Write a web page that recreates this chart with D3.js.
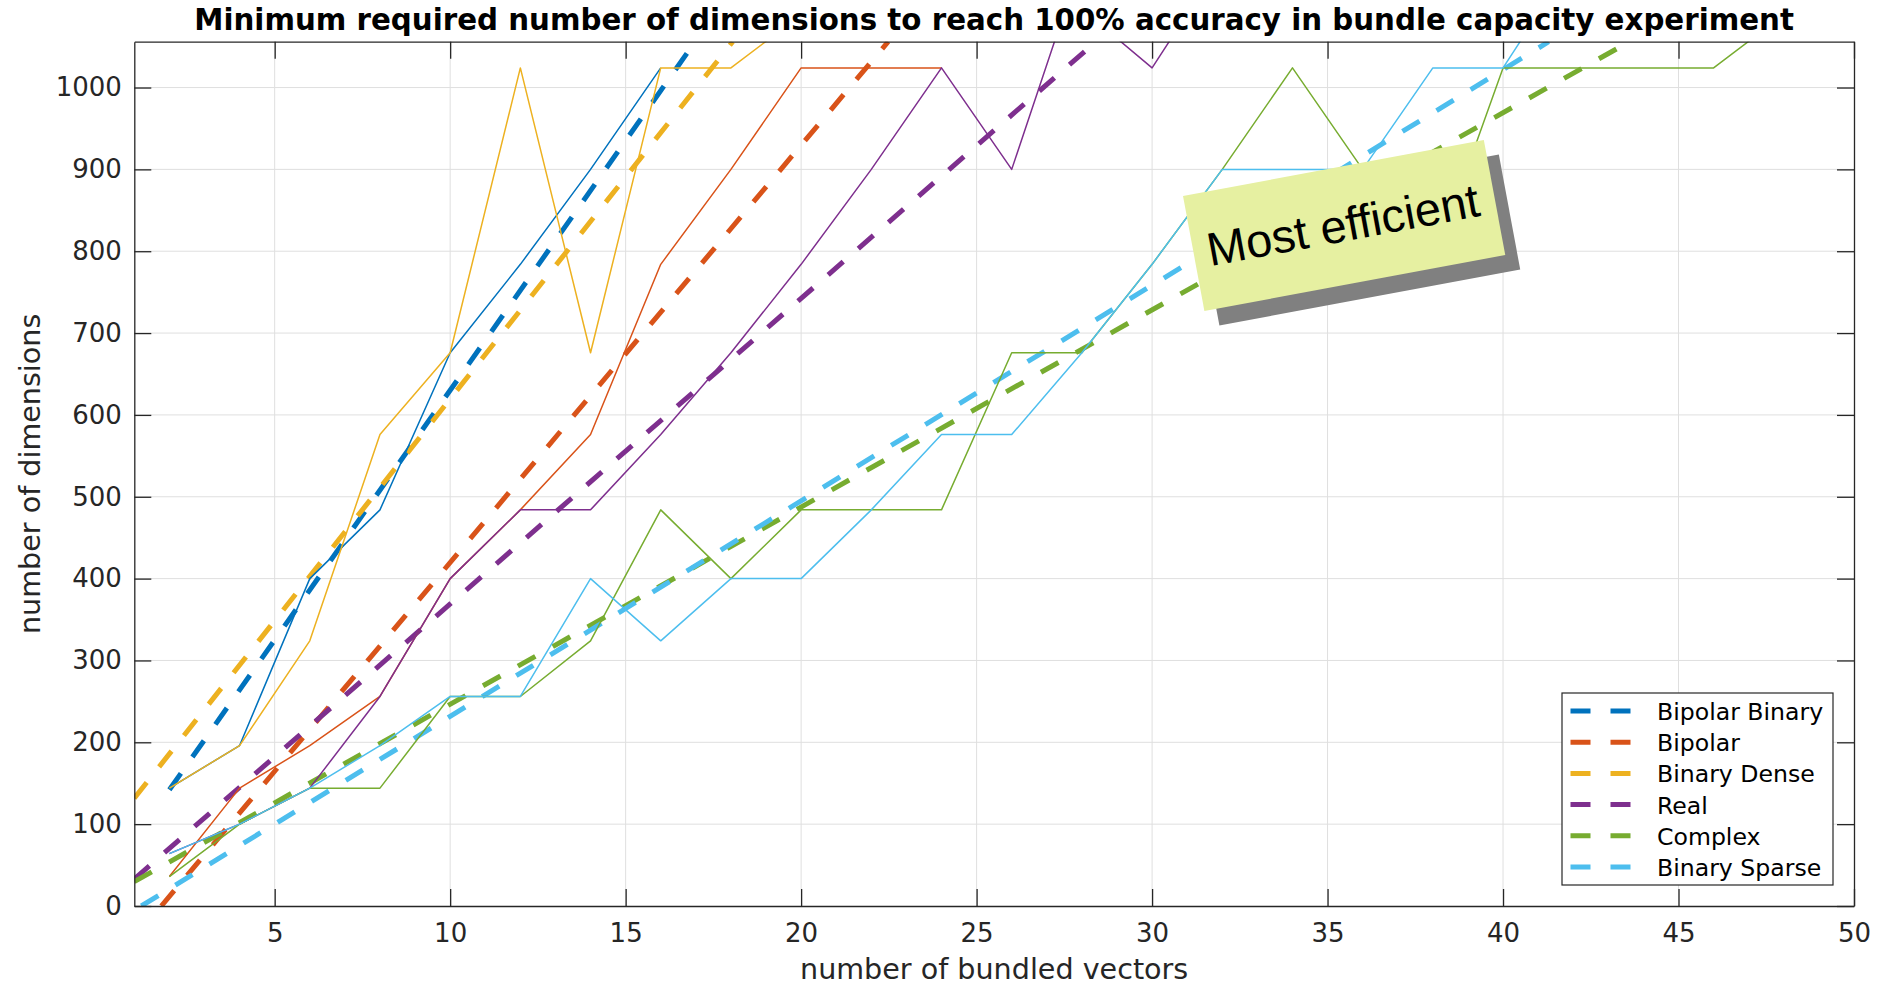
<!DOCTYPE html>
<html>
<head>
<meta charset="utf-8">
<script src="https://cdn.jsdelivr.net/npm/d3@7"></script>
<style>
    body { margin: 0; background: #fff; }
    svg text { font-family: "DejaVu Sans", sans-serif; }
</style>
</head>
<body>
<svg id="chart" width="1881" height="986"></svg>
<script>
// ---- data ----
var seriesNames = ['Bipolar Binary', 'Bipolar', 'Binary Dense', 'Real', 'Complex', 'Binary Sparse'];
var colors = ['#0072BD', '#D95319', '#EDB120', '#7E2F8E', '#77AC30', '#4DBEEE'];

// measured points [vectors, dimensions]
var bipolarBinary = [[2, 144], [4, 196], [6, 400], [8, 484], [10, 676], [12, 784], [14, 900], [16, 1024]];
var bipolar = [[2, 36], [4, 144], [6, 196], [8, 256], [10, 400], [12, 484], [14, 576], [16, 784],
    [18, 900], [20, 1024], [22, 1024], [24, 1024]];
var binaryDense = [[2, 144], [4, 196], [6, 324], [8, 576], [10, 676], [12, 1024], [14, 676], [16, 1024],
    [18, 1024], [20, 1089]];
var real = [[2, 64], [4, 100], [6, 144], [8, 256], [10, 400], [12, 484], [14, 484], [16, 576], [18, 676],
    [20, 784], [22, 900], [24, 1024], [26, 900], [28, 1156], [29, 1060], [30, 1024], [32, 1156]];
var complex = [[2, 36], [4, 100], [6, 144], [8, 144], [10, 256], [12, 256], [14, 324], [16, 484], [18, 400],
    [20, 484], [22, 484], [24, 484], [26, 676], [28, 676], [30, 784], [32, 900], [34, 1024], [36, 900],
    [38, 784], [40, 1024], [42, 1024], [44, 1024], [46, 1024], [48, 1089]];
var binarySparse = [[2, 64], [4, 100], [6, 144], [8, 196], [10, 256], [12, 256], [14, 400], [16, 324],
    [18, 400], [20, 400], [22, 484], [24, 576], [26, 576], [28, 676], [30, 784], [32, 900], [34, 900],
    [36, 900], [38, 1024], [40, 1024], [42, 1156]];

// linear fits (dashed), start and end point
var fitBipolarBinary = [[2, 142], [16.98, 1056]];
var fitBipolar = [[1.77, 0], [22.48, 1056]];
var fitBinaryDense = [[1, 131.7], [18.05, 1056]];
var fitReal = [[1, 33], [28.4, 1056]];
var fitComplex = [[1, 29.7], [43.6, 1056]];
var fitBinarySparse = [[1.2, 0], [41.3, 1056]];

var xTicks = [5, 10, 15, 20, 25, 30, 35, 40, 45, 50];
var yTicks = [0, 100, 200, 300, 400, 500, 600, 700, 800, 900, 1000];

var titleText = 'Minimum required number of dimensions to reach 100% accuracy in bundle capacity experiment';
var xLabel = 'number of bundled vectors';
var yLabel = 'number of dimensions';
var noteText = 'Most efficient';

var measured = [bipolarBinary, bipolar, binaryDense, real, complex, binarySparse];
var fits = [fitBipolarBinary, fitBipolar, fitBinaryDense, fitReal, fitComplex, fitBinarySparse];

// ---- layout ----
var plotLeft = 134.3, plotRight = 1854, plotTop = 41.7, plotBottom = 906,
    axisColor = '#262626',
    tickLen = 17;

var svg = d3.select('#chart');

var x = d3.scaleLinear().domain([1, 50]).range([plotLeft, plotRight]);
var y = d3.scaleLinear().domain([0, 1056]).range([plotBottom, plotTop]);

svg.append('defs').append('clipPath').attr('id', 'plot-clip')
    .append('rect')
    .attr('x', plotLeft).attr('y', plotTop)
    .attr('width', plotRight - plotLeft).attr('height', plotBottom - plotTop);

// grid
var grid = svg.append('g').attr('stroke', '#dfdfdf').attr('stroke-width', 1);
grid.selectAll('line.gx')
    .data(xTicks.filter(function (t) { return t < 50; }))
    .enter().append('line')
    .attr('x1', function (d) { return x(d); }).attr('x2', function (d) { return x(d); })
    .attr('y1', plotTop).attr('y2', plotBottom);
grid.selectAll('line.gy')
    .data(yTicks.filter(function (t) { return t > 0; }))
    .enter().append('line')
    .attr('x1', plotLeft).attr('x2', plotRight)
    .attr('y1', function (d) { return y(d); }).attr('y2', function (d) { return y(d); });

// lines: fits first (they are the legend entries), measured on top
var line = d3.line()
    .x(function (d) { return x(d[0]); })
    .y(function (d) { return y(d[1]); });

var plot = svg.append('g').attr('clip-path', 'url(#plot-clip)');

fits.forEach(function (pts, i) {
    plot.append('path')
        .datum(pts)
        .attr('fill', 'none')
        .attr('stroke', colors[i])
        .attr('stroke-width', 5)
        .attr('stroke-dasharray', '20,20')
        .attr('d', line);
});

measured.forEach(function (pts, i) {
    plot.append('path')
        .datum(pts)
        .attr('fill', 'none')
        .attr('stroke', colors[i])
        .attr('stroke-width', 1.5)
        .attr('stroke-linejoin', 'round')
        .attr('d', line);
});

// axes, ticks pointing inwards on all four sides
function styleAxis(g) {
    g.select('.domain').attr('stroke', axisColor).attr('stroke-width', 1.3);
    g.selectAll('.tick line').attr('stroke', axisColor).attr('stroke-width', 1.3);
    g.selectAll('.tick text')
        .attr('fill', axisColor)
        .style('font-size', '26px')
        .style('font-family', '"DejaVu Sans", sans-serif');
}

svg.append('g')
    .attr('transform', 'translate(0,' + plotBottom + ')')
    .call(d3.axisBottom(x).tickValues(xTicks).tickSize(-tickLen).tickSizeOuter(0).tickPadding(17.5))
    .call(styleAxis);

svg.append('g')
    .attr('transform', 'translate(' + plotLeft + ',0)')
    .call(d3.axisLeft(y).tickValues(yTicks).tickFormat(d3.format('d'))
        .tickSize(-tickLen).tickSizeOuter(0).tickPadding(12.5))
    .call(styleAxis);

svg.append('g')
    .attr('transform', 'translate(0,' + plotTop + ')')
    .call(d3.axisTop(x).tickValues(xTicks).tickSize(-tickLen).tickSizeOuter(0).tickFormat(''))
    .call(styleAxis);

svg.append('g')
    .attr('transform', 'translate(' + plotRight + ',0)')
    .call(d3.axisRight(y).tickValues(yTicks).tickSize(-tickLen).tickSizeOuter(0).tickFormat(''))
    .call(styleAxis);

// labels
svg.append('text')
    .attr('x', (plotLeft + plotRight) / 2).attr('y', 30)
    .attr('text-anchor', 'middle')
    .style('font-size', '29.3px').style('font-weight', 'bold')
    .attr('fill', '#000')
    .text(titleText);

svg.append('text')
    .attr('x', (plotLeft + plotRight) / 2).attr('y', 979)
    .attr('text-anchor', 'middle')
    .style('font-size', '28.6px')
    .attr('fill', axisColor)
    .text(xLabel);

svg.append('text')
    .attr('transform', 'translate(40,' + ((plotTop + plotBottom) / 2) + ') rotate(-90)')
    .attr('text-anchor', 'middle')
    .style('font-size', '28.6px')
    .attr('fill', axisColor)
    .text(yLabel);

// legend
var legend = svg.append('g').attr('transform', 'translate(1562,693)');
legend.append('rect')
    .attr('width', 271).attr('height', 192)
    .attr('fill', '#fff').attr('stroke', axisColor).attr('stroke-width', 1.2);
seriesNames.forEach(function (name, i) {
    var ly = 18 + i * 31.2;
    legend.append('line')
        .attr('x1', 8.5).attr('x2', 70)
        .attr('y1', ly).attr('y2', ly)
        .attr('stroke', colors[i]).attr('stroke-width', 5)
        .attr('stroke-dasharray', '20,20');
    legend.append('text')
        .attr('x', 95).attr('y', ly + 9)
        .style('font-size', '23.6px')
        .attr('fill', '#000')
        .text(name);
});

// "Most efficient" note box with drop shadow
var angle = -10.54, boxW = 306, boxH = 117;
svg.append('rect')
    .attr('transform', 'translate(1198,210.5) rotate(' + angle + ')')
    .attr('width', boxW).attr('height', boxH)
    .attr('fill', '#808080');
var note = svg.append('g').attr('transform', 'translate(1183,196) rotate(' + angle + ')');
note.append('rect')
    .attr('width', boxW).attr('height', boxH)
    .attr('fill', '#e6f0a1');
note.append('text')
    .attr('x', 14).attr('y', 74)
    .style('font-family', '"Liberation Sans", Arial, sans-serif')
    .style('font-size', '47px')
    .attr('fill', '#000')
    .text(noteText);
</script>
</body>
</html>
